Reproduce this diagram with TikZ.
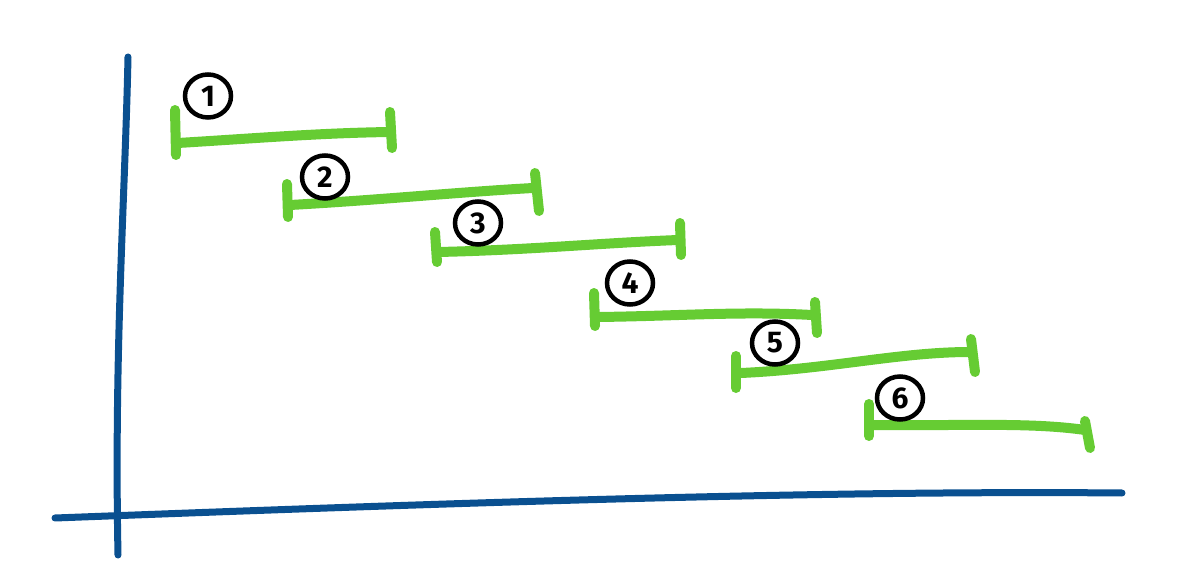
\documentclass[tikz,border=0pt]{standalone}
\usepackage{fontspec}
\newfontfamily\handfont{Fira Sans}
\usetikzlibrary{shapes.geometric}
\definecolor{axisblue}{HTML}{0A5090}
\definecolor{bargreen}{HTML}{66CC33}
\tikzset{
  axisline/.style={draw=axisblue,line width=7pt,line cap=round},
  barline/.style={draw=bargreen,line width=10pt,line cap=round},
  numcircle/.style={ellipse,draw=black,line width=4.5pt,minimum width=46pt,minimum height=43pt,inner sep=0pt,font=\handfont\bfseries\fontsize{30}{30}\selectfont}
}
\begin{document}
\begin{tikzpicture}[x=1pt,y=-1pt]
\useasboundingbox (0,0) rectangle (1192,588);
% axes
\coordinate (yt) at (128,57);
\coordinate (yb) at (118,555);
\coordinate (xl) at (55,518);
\coordinate (xr) at (1122,493);
\draw[axisline] (yt) .. controls (125,200) and (114,350) .. (yb);
\draw[axisline] (xl) .. controls (400,505) and (800,490) .. (xr);
% bar 1
\coordinate (a1t) at (175,110); \coordinate (a1b) at (176,155);
\coordinate (b1l) at (178,143); \coordinate (b1r) at (390,132);
\coordinate (c1t) at (390,112); \coordinate (c1b) at (392,148);
\draw[barline] (a1t) -- (a1b);
\draw[barline] (b1l) .. controls (260,138) and (320,133) .. (b1r);
\draw[barline] (c1t) -- (c1b);
\node[numcircle] (n1) at (208,96) {1};
% bar 2
\coordinate (a2t) at (287,184); \coordinate (a2b) at (288,217);
\coordinate (b2l) at (290,205); \coordinate (b2r) at (533,188);
\coordinate (c2t) at (535,173); \coordinate (c2b) at (539,211);
\draw[barline] (a2t) -- (a2b);
\draw[barline] (b2l) .. controls (380,200) and (460,192) .. (b2r);
\draw[barline] (c2t) -- (c2b);
\node[numcircle] (n2) at (325,177) {2};
% bar 3
\coordinate (a3t) at (435,232); \coordinate (a3b) at (437,262);
\coordinate (b3l) at (438,252); \coordinate (b3r) at (678,240);
\coordinate (c3t) at (680,223); \coordinate (c3b) at (681,255);
\draw[barline] (a3t) -- (a3b);
\draw[barline] (b3l) .. controls (530,250) and (600,243) .. (b3r);
\draw[barline] (c3t) -- (c3b);
\node[numcircle] (n3) at (478,223) {3};
% bar 4
\coordinate (a4t) at (594,293); \coordinate (a4b) at (595,326);
\coordinate (b4l) at (598,317); \coordinate (b4r) at (812,315);
\coordinate (c4t) at (815,302); \coordinate (c4b) at (817,333);
\draw[barline] (a4t) -- (a4b);
\draw[barline] (b4l) .. controls (680,316) and (740,311) .. (b4r);
\draw[barline] (c4t) -- (c4b);
\node[numcircle] (n4) at (630,283) {4};
% bar 5
\coordinate (a5t) at (736,356); \coordinate (a5b) at (736,388);
\coordinate (b5l) at (741,373); \coordinate (b5r) at (970,352);
\coordinate (c5t) at (971,339); \coordinate (c5b) at (975,372);
\draw[barline] (a5t) -- (a5b);
\draw[barline] (b5l) .. controls (830,369) and (900,352) .. (b5r);
\draw[barline] (c5t) -- (c5b);
\node[numcircle] (n5) at (775,343) {5};
% bar 6
\coordinate (a6t) at (869,404); \coordinate (a6b) at (869,436);
\coordinate (b6l) at (873,425); \coordinate (b6r) at (1085,430);
\coordinate (c6t) at (1085,421); \coordinate (c6b) at (1090,448);
\draw[barline] (a6t) -- (a6b);
\draw[barline] (b6l) .. controls (960,426) and (1030,422) .. (b6r);
\draw[barline] (c6t) -- (c6b);
\node[numcircle] (n6) at (900,398) {6};
\end{tikzpicture}
\end{document}
